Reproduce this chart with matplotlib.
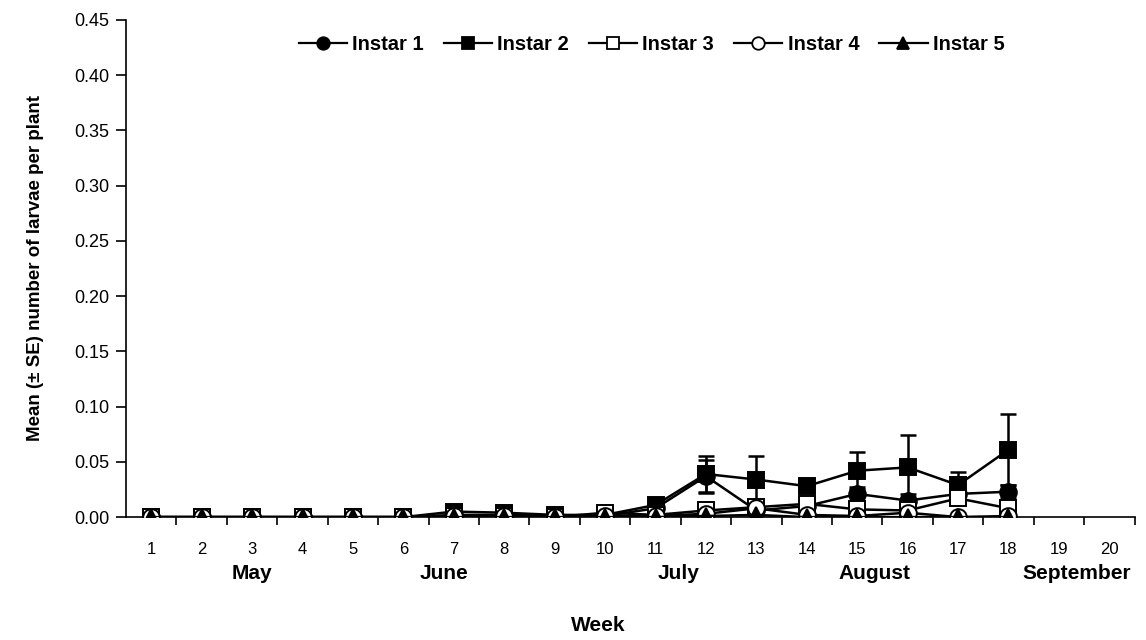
import numpy as np
import matplotlib as mpl
import matplotlib.pyplot as plt
from matplotlib.ticker import FixedLocator, MultipleLocator, FormatStrFormatter

mpl.rcParams["font.family"] = ["Liberation Sans", "DejaVu Sans"]

# weekly means and standard errors per instar
weeks = np.arange(1, 19)
instar1 = [0, 0, 0, 0, 0, 0, 0.002, 0.002, 0.001, 0.001, 0.008, 0.037, 0.006, 0.010, 0.021, 0.015, 0.021, 0.023]
instar1_se = [0, 0, 0, 0, 0, 0, 0.001, 0.001, 0.001, 0.001, 0.004, 0.015, 0.004, 0.005, 0.006, 0.006, 0.005, 0.006]
instar2 = [0, 0, 0, 0, 0, 0, 0.005, 0.004, 0.002, 0.002, 0.011, 0.039, 0.034, 0.028, 0.042, 0.045, 0.029, 0.061]
instar2_se = [0, 0, 0, 0, 0, 0, 0.003, 0.002, 0.001, 0.001, 0.004, 0.016, 0.021, 0.003, 0.017, 0.029, 0.012, 0.032]
instar3 = [0, 0, 0, 0, 0, 0, 0.001, 0.001, 0, 0.004, 0.002, 0.006, 0.009, 0.012, 0.007, 0.006, 0.017, 0.008]
instar3_se = [0, 0, 0, 0, 0, 0, 0.001, 0.001, 0, 0.002, 0.001, 0.003, 0.004, 0.004, 0.003, 0.003, 0.005, 0.003]
instar4 = [0, 0, 0, 0, 0, 0, 0.001, 0.001, 0, 0.001, 0.001, 0.003, 0.008, 0.002, 0.001, 0.004, 0, 0.001]
instar5 = [0, 0, 0, 0, 0, 0, 0, 0, 0, 0, 0, 0.001, 0.002, 0, 0, 0, 0, 0]

week_ticks = list(range(1, 21))
months = ["May", "June", "July", "August", "September"]
month_pos = [3.0, 6.8, 11.45, 15.35, 19.35]

fig = plt.figure(figsize=(11.46, 6.4), dpi=100)
ax = fig.add_axes([0.110, 0.192, 0.880, 0.777])

series = [
    (instar1, instar1_se, "o", "black", "Instar 1"),
    (instar2, instar2_se, "s", "black", "Instar 2"),
    (instar3, instar3_se, "s", "white", "Instar 3"),
    (instar4, None, "o", "white", "Instar 4"),
    (instar5, None, "^", "black", "Instar 5"),
]
handles = []
for i, (vals, se, mk, fc, lab) in enumerate(series):
    z = 3 + i
    if se is not None:
        ax.errorbar(weeks, vals, yerr=se, fmt="none", ecolor="black",
                    elinewidth=1.8, capsize=5.5, capthick=1.8, zorder=z)
    ax.plot(weeks, vals, color="black", lw=1.8, marker=mk, ms=12,
            mfc=fc, mec="black", mew=1.4, zorder=z + 0.5)
    h, = ax.plot([], [], color="black", lw=1.6, marker=mk, ms=9,
                 mfc=fc, mec="black", mew=1.3, label=lab)
    handles.append(h)

ax.set_xlim(0.5, 20.5)
ax.set_ylim(0, 0.45)
ax.yaxis.set_major_locator(MultipleLocator(0.05))
ax.yaxis.set_major_formatter(FormatStrFormatter("%.2f"))
ax.xaxis.set_major_locator(FixedLocator(week_ticks))
ax.xaxis.set_minor_locator(FixedLocator(np.arange(1.5, 20.6, 1)))
ax.tick_params(axis="x", which="major", length=0, pad=18, labelsize=12)
ax.tick_params(axis="x", which="minor", length=6, width=1.2)
ax.tick_params(axis="y", length=7, width=1.2, labelsize=13, pad=5)

for s in ["top", "right"]:
    ax.spines[s].set_visible(False)
for s in ["left", "bottom"]:
    ax.spines[s].set_linewidth(1.2)

# month names under the week numbers
for m, p in zip(months, month_pos):
    ax.text(p, -0.0507, m, ha="center", va="center", fontsize=15, fontweight="bold")

ax.set_ylabel("Mean (\u00b1 SE) number of larvae per plant", fontsize=13.5,
              fontweight="bold", labelpad=22)
fig.text(0.522, 0.022, "Week", ha="center", va="center", fontsize=15, fontweight="bold")

ax.legend(handles=handles, loc="center left", bbox_to_anchor=(0.171, 0.95),
          ncol=5, frameon=False, handlelength=2.4, handletextpad=0.25,
          columnspacing=1.0, borderaxespad=0, borderpad=0,
          prop={"weight": "bold", "size": 14.5})

fig.savefig("out.png", dpi=100)
